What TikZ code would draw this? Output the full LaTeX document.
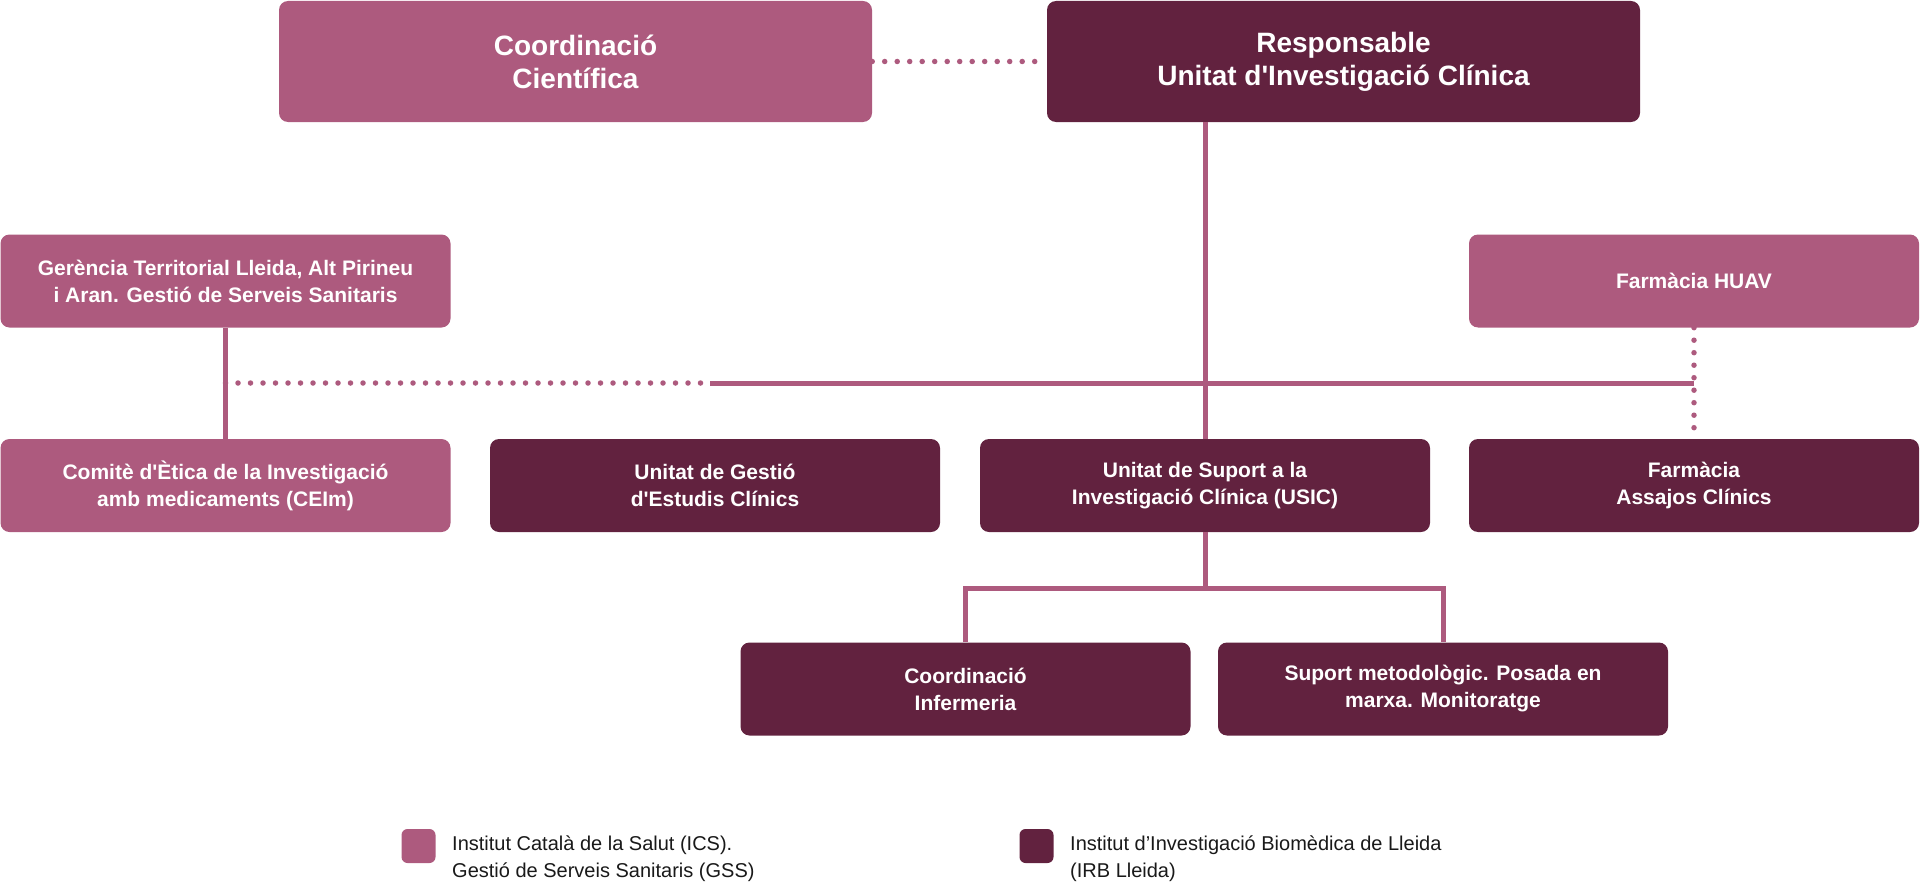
\documentclass[tikz,border=0pt]{standalone}
\usepackage{fontspec}
\setmainfont{Liberation Sans}[Ligatures=TeXOff]
\definecolor{ics}{RGB}{173,90,126}
\definecolor{irb}{RGB}{98,34,63}
\begin{document}
\begin{tikzpicture}[x=1pt,y=-1pt,
  box/.style={rectangle, rounded corners=9pt, text=white, font=\bfseries\fontsize{21}{27}\selectfont, align=center, inner sep=0pt},
  big/.style={box, minimum width=593pt, minimum height=121pt, font=\bfseries\fontsize{28}{33}\selectfont},
  small/.style={box, minimum width=450pt, minimum height=93pt},
  link/.style={draw=ics, line width=5pt},
  dots/.style={draw=ics, line width=5.5pt, line cap=round, dash pattern=on 0pt off 12.5pt},
  legbox/.style={rectangle, rounded corners=6pt, minimum size=34pt, inner sep=0pt},
  legtext/.style={anchor=west, align=left, font=\fontsize{20}{27}\selectfont, text=black!90, inner sep=0pt}
]
\useasboundingbox (0,0) rectangle (1920,891);

\node[big, fill=ics] (cc) at (575.5,61.5) {Coordinació\\Científica};
\node[big, fill=irb] (resp) at (1343.5,61.5) {Responsable\\Unitat d'Investigació Clínica};

\node[small, fill=ics] (ger) at (225.5,281) {Gerència Territorial Lleida, Alt Pirineu\\i Aran. Gestió de Serveis Sanitaris};
\node[small, fill=ics] (huav) at (1694,281) {Farmàcia HUAV};

\node[small, fill=ics] (cei) at (225.5,485.5) {Comitè d'Ètica de la Investigació\\amb medicaments (CEIm)};
\node[small, fill=irb] (ugec) at (715,485.5) {Unitat de Gestió\\d'Estudis Clínics};
\node[small, fill=irb] (usic) at (1205,485.5) {Unitat de Suport a la\\Investigació Clínica (USIC)};
\node[small, fill=irb] (fac) at (1694,485.5) {Farmàcia\\Assajos Clínics};

\node[small, fill=irb] (ci) at (965.5,689) {Coordinació\\Infermeria};
\node[small, fill=irb] (sm) at (1443,689) {Suport metodològic. Posada en\\marxa. Monitoratge};

% connectors
\draw[dots] (cc.east) -- (resp.west);
\draw[link] (usic.north |- resp.south) -- (usic.north);
\draw[link] (ger.south) -- (cei.north);
\coordinate (hl) at (225.5,383);
\coordinate (hm) at (710,383);
\coordinate (hr) at (1694,383);
\draw[dots] (hl) -- (hm);
\draw[link] (hm) -- (hr);
\draw[dots] (huav.south) -- (fac.north);
\coordinate (br) at (1205,588);
\draw[link] (usic.south) -- (br);
\draw[link] (ci.north) |- (br) -| (sm.north);

% legend
\node[legbox, fill=ics] (l1) at (418.5,846) {};
\node[legtext] (t1) at (452,858.5) {Institut Català de la Salut (ICS).\\Gestió de Serveis Sanitaris (GSS)};
\node[legbox, fill=irb] (l2) at (1036.5,846) {};
\node[legtext] (t2) at (1070,858.5) {Institut d’Investigació Biomèdica de Lleida\\(IRB Lleida)};
\end{tikzpicture}
\end{document}
